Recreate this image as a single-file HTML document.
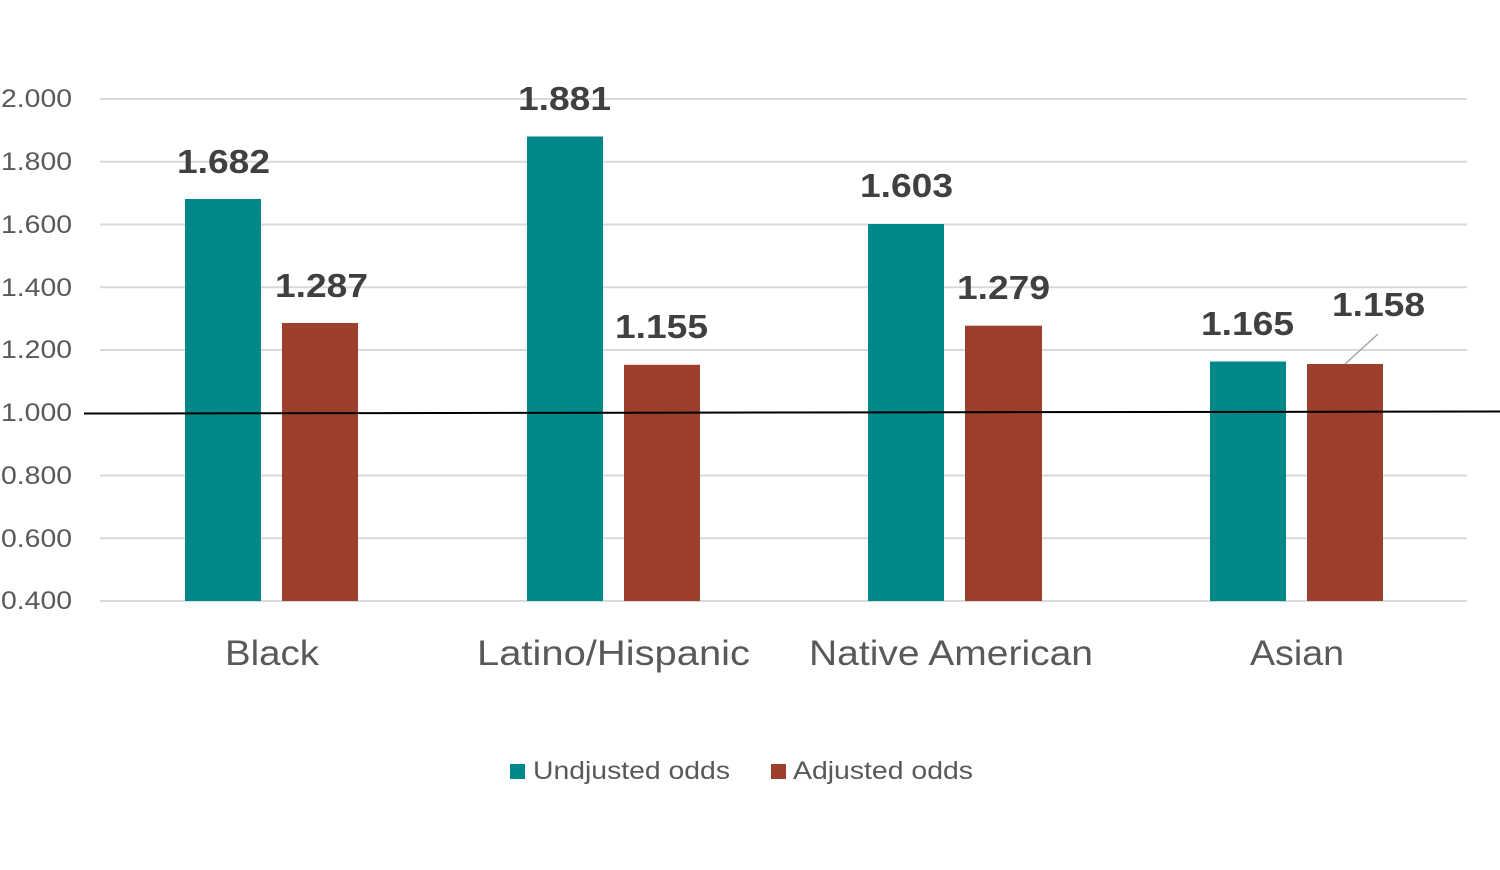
<!DOCTYPE html>
<html><head><meta charset="utf-8"><style>
html,body{margin:0;padding:0;background:#fff;}
svg{display:block;}
text{font-family:"Liberation Sans",sans-serif;}
</style></head><body>
<svg width="1500" height="870" viewBox="0 0 1500 870" xmlns="http://www.w3.org/2000/svg">
<g stroke="#d9d9d9" stroke-width="2">
<line x1="100" y1="99" x2="1467" y2="99"/>
<line x1="100" y1="161.75" x2="1467" y2="161.75"/>
<line x1="100" y1="224.5" x2="1467" y2="224.5"/>
<line x1="100" y1="287.25" x2="1467" y2="287.25"/>
<line x1="100" y1="350" x2="1467" y2="350"/>
<line x1="100" y1="475.5" x2="1467" y2="475.5"/>
<line x1="100" y1="538.25" x2="1467" y2="538.25"/>
<line x1="100" y1="601" x2="1467" y2="601"/>
</g>
<g font-size="25" fill="#595959" lengthAdjust="spacingAndGlyphs">
<text x="1" y="107" textLength="71" lengthAdjust="spacingAndGlyphs">2.000</text>
<text x="1" y="170" textLength="71" lengthAdjust="spacingAndGlyphs">1.800</text>
<text x="1" y="233" textLength="71" lengthAdjust="spacingAndGlyphs">1.600</text>
<text x="1" y="296" textLength="71" lengthAdjust="spacingAndGlyphs">1.400</text>
<text x="1" y="358" textLength="71" lengthAdjust="spacingAndGlyphs">1.200</text>
<text x="1" y="421" textLength="71" lengthAdjust="spacingAndGlyphs">1.000</text>
<text x="1" y="484" textLength="71" lengthAdjust="spacingAndGlyphs">0.800</text>
<text x="1" y="547" textLength="71" lengthAdjust="spacingAndGlyphs">0.600</text>
<text x="1" y="609" textLength="71" lengthAdjust="spacingAndGlyphs">0.400</text>
</g>
<g fill="#00878a">
<rect x="185" y="199" width="76" height="402"/>
<rect x="527" y="136.5" width="76" height="464.5"/>
<rect x="868" y="224" width="76" height="377"/>
<rect x="1210" y="361.5" width="76" height="239.5"/>
</g>
<g fill="#9c3f2c">
<rect x="282" y="323" width="76" height="278"/>
<rect x="624" y="364.8" width="76" height="236.2"/>
<rect x="965" y="325.7" width="77" height="275.3"/>
<rect x="1307" y="364" width="76" height="237"/>
</g>
<line x1="84" y1="413.5" x2="1500" y2="411.5" stroke="#000" stroke-width="2"/>
<line x1="1378" y1="334" x2="1345" y2="364" stroke="#a6a6a6" stroke-width="1.5"/>
<g font-size="33" font-weight="bold" fill="#404040">
<text x="177" y="173" textLength="93" lengthAdjust="spacingAndGlyphs">1.682</text>
<text x="275" y="297" textLength="93" lengthAdjust="spacingAndGlyphs">1.287</text>
<text x="518" y="110" textLength="93" lengthAdjust="spacingAndGlyphs">1.881</text>
<text x="615" y="338" textLength="93" lengthAdjust="spacingAndGlyphs">1.155</text>
<text x="860" y="197" textLength="93" lengthAdjust="spacingAndGlyphs">1.603</text>
<text x="957" y="299" textLength="93" lengthAdjust="spacingAndGlyphs">1.279</text>
<text x="1201" y="335" textLength="93" lengthAdjust="spacingAndGlyphs">1.165</text>
<text x="1332" y="316" textLength="93" lengthAdjust="spacingAndGlyphs">1.158</text>
</g>
<g font-size="35" fill="#595959">
<text x="225" y="665" textLength="94" lengthAdjust="spacingAndGlyphs">Black</text>
<text x="477" y="665" textLength="273" lengthAdjust="spacingAndGlyphs">Latino/Hispanic</text>
<text x="809" y="665" textLength="284" lengthAdjust="spacingAndGlyphs">Native American</text>
<text x="1250" y="665" textLength="94" lengthAdjust="spacingAndGlyphs">Asian</text>
</g>
<rect x="510" y="764" width="15" height="15" fill="#00878a"/>
<text x="533" y="779" font-size="25" fill="#595959" textLength="197" lengthAdjust="spacingAndGlyphs">Undjusted odds</text>
<rect x="771" y="764" width="15" height="15" fill="#9c3f2c"/>
<text x="793" y="779" font-size="25" fill="#595959" textLength="180" lengthAdjust="spacingAndGlyphs">Adjusted odds</text>
</svg>
</body></html>
